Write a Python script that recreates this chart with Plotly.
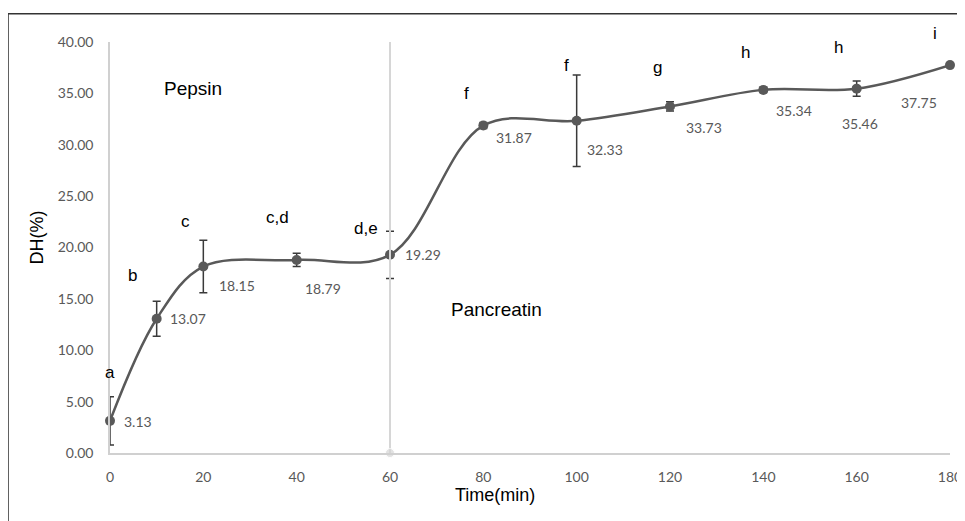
import plotly.graph_objects as go

# ---- data ----
time_min = [0, 10, 20, 40, 60, 80, 100, 120, 140, 160, 180]
dh_pct = [3.13, 13.07, 18.15, 18.79, 19.29, 31.87, 32.33, 33.73, 35.34, 35.46, 37.75]
dh_err = [2.35, 1.7, 2.55, 0.65, 2.3, 0.3, 4.45, 0.45, 0.25, 0.75, 0.0]
sig_letters = ["a", "b", "c", "c,d", "d,e", "f", "f", "g", "h", "h", "i"]
phase_x = [60, 60]
phase_y = [0, 40]
x_ticks = [0, 20, 40, 60, 80, 100, 120, 140, 160, 180]
y_ticks = [0, 5, 10, 15, 20, 25, 30, 35, 40]

# ---- label offsets (pixels) ----
val_dx = [28, 31, 34, 26, 33, 31, 28, 34, 31, 3, -31]
val_dy = [1, 0, 19, 29, 0, 12, 29, 21, 21, 35, 37]
let_dx = [0, -24, -18, -19, -24, -17, -10, -13, -18, -18, -15]
let_dy = [-48, -43, -45, -42, -26, -32, -55, -39, -37, -41, -32]

TICK_FONT = "Lato, 'Open Sans', sans-serif"
ARIAL = "'Liberation Sans', Arial, sans-serif"
GRAY = "#595959"

fig = go.Figure()
fig.add_trace(go.Scatter(
    x=time_min, y=dh_pct, mode="lines+markers",
    line=dict(shape="spline", smoothing=1.0, color=GRAY, width=2.5),
    marker=dict(symbol="circle", size=10, color=GRAY),
    error_y=dict(type="data", array=dh_err, visible=True, color="#3a3a3a",
                 thickness=1.5, width=4),
    cliponaxis=False, showlegend=False, hoverinfo="skip"))
fig.add_trace(go.Scatter(
    x=phase_x, y=phase_y, mode="lines+markers",
    line=dict(color="#d6d6d6", width=2),
    marker=dict(size=[9, 0], color="#d6d6d6"),
    cliponaxis=False, showlegend=False, hoverinfo="skip"))

ann = []
for t, v, dx, dy in zip(time_min, dh_pct, val_dx, val_dy):
    ann.append(dict(x=t, y=v, xref="x", yref="y", text=f"{v:.2f}", showarrow=False,
                    xshift=dx, yshift=-dy, font=dict(family=TICK_FONT, size=14, color=GRAY)))
for t, v, s, dx, dy in zip(time_min, dh_pct, sig_letters, let_dx, let_dy):
    ann.append(dict(x=t, y=v, xref="x", yref="y", text=s, showarrow=False,
                    xshift=dx, yshift=-dy, font=dict(family=ARIAL, size=17, color="black")))
ann.append(dict(x=17.8, y=35.5, xref="x", yref="y", text="Pepsin", showarrow=False,
                font=dict(family=ARIAL, size=19, color="black")))
ann.append(dict(x=82.9, y=14.0, xref="x", yref="y", text="Pancreatin", showarrow=False,
                font=dict(family=ARIAL, size=19, color="black")))
ann.append(dict(x=-0.101, y=0.525, xref="paper", yref="paper", text="DH(%)", textangle=-90,
                showarrow=False, font=dict(family=ARIAL, size=18, color="black")))
ann.append(dict(x=0.458, y=-0.131, xref="paper", yref="paper", text="Time(min)",
                showarrow=False, font=dict(family=ARIAL, size=18, color="black")))

shapes = [
    dict(type="line", xref="paper", yref="paper", x0=-0.1214, x1=-0.1214, y0=-0.3, y1=1.069,
         line=dict(color="#333333", width=1.5)),
    dict(type="line", xref="paper", yref="paper", x0=-0.1214, x1=1.05, y0=1.069, y1=1.069,
         line=dict(color="#333333", width=1.5)),
]

# page body has an 8px margin, so the plot area is shifted up/left by 8px
fig.update_layout(
    width=965, height=521,
    margin=dict(l=102, r=23, t=33.5, b=76),
    paper_bgcolor="white", plot_bgcolor="white",
    annotations=ann, shapes=shapes,
    xaxis=dict(range=[0, 180], tickvals=x_ticks, ticktext=[str(v) for v in x_ticks],
               showgrid=False, zeroline=False, showline=True, linecolor="#d0d0d0", linewidth=1.5,
               ticks="", ticklabelstandoff=10, automargin=False,
               tickfont=dict(family=TICK_FONT, size=14, color=GRAY)),
    yaxis=dict(range=[0, 40], tickvals=y_ticks, ticktext=[f"{v:.2f}" for v in y_ticks],
               showgrid=False, zeroline=False, showline=True, linecolor="#d0d0d0", linewidth=1.5,
               ticks="", ticklabelstandoff=12, automargin=False,
               tickfont=dict(family=TICK_FONT, size=14, color=GRAY)),
)
fig.write_html("out.html")
